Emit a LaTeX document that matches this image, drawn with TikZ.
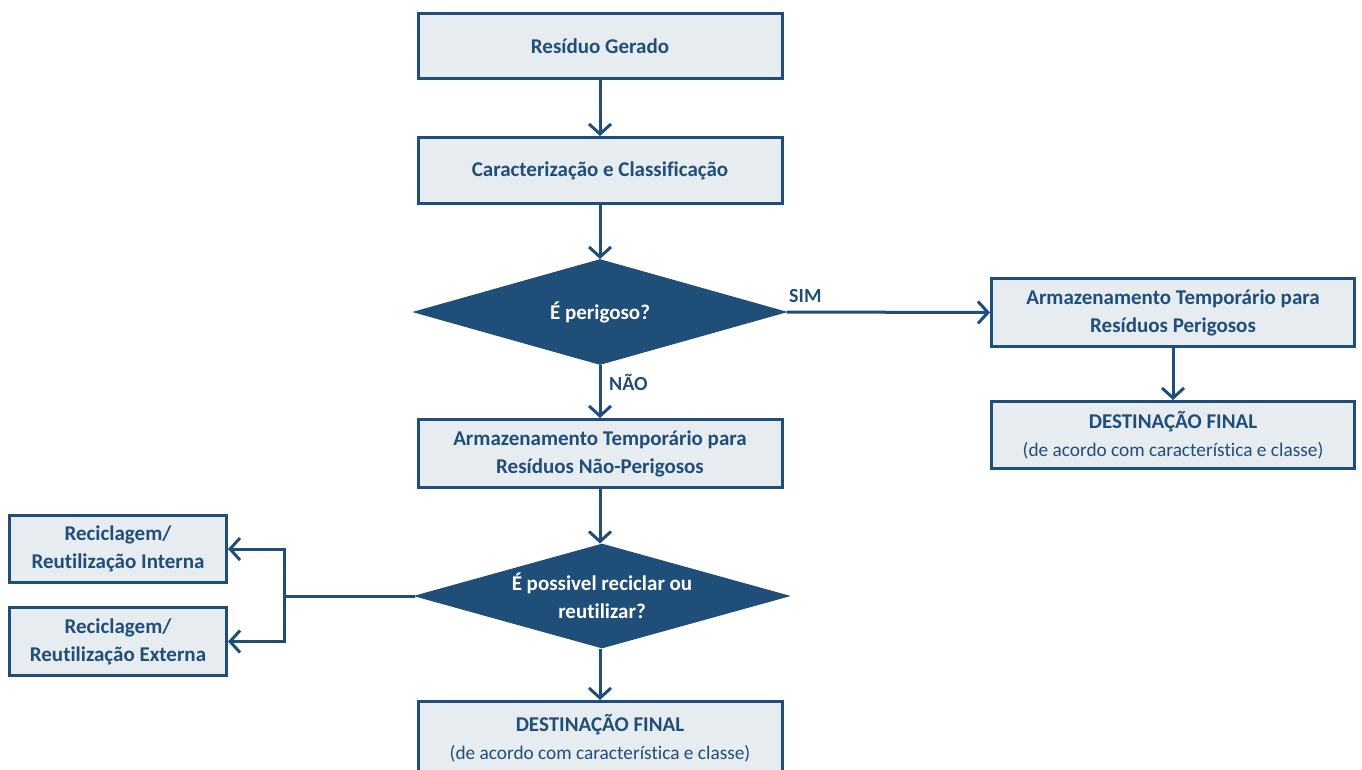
\documentclass[tikz,border=0pt]{standalone}
\usepackage{fontspec}
\setmainfont{Carlito}[Ligatures=NoCommon]
\usetikzlibrary{arrows.meta,shapes.geometric}
\definecolor{dkblue}{RGB}{31,78,121}
\definecolor{ltfill}{RGB}{231,236,241}
\newcommand{\subtxt}{\fontsize{19.3}{26}\selectfont\mdseries}
\tikzset{
  box/.style={draw=dkblue, fill=ltfill, line width=3pt, inner sep=0pt, align=center,
    font=\fontsize{21}{28}\selectfont\bfseries, text=dkblue},
  dec/.style={shape=diamond, fill=dkblue, draw=dkblue, line width=1pt, inner sep=0pt, align=center,
    font=\fontsize{21}{28}\selectfont\bfseries, text=white},
  conn/.style={draw=dkblue, line width=3pt, -{Straight Barb[length=10pt,width=22pt,line width=3pt]}},
  line/.style={draw=dkblue, line width=3pt},
  lbl/.style={font=\fontsize{20}{24}\selectfont\bfseries, text=dkblue, inner sep=0pt}
}
\begin{document}
\begin{tikzpicture}[x=1pt,y=-1pt]
\useasboundingbox (0,0) rectangle (1362,769);
\node[box, minimum width=364pt, minimum height=65pt] (gerado) at (600,46) {Resíduo Gerado};
\node[box, minimum width=364pt, minimum height=66pt] (carac) at (600,170.5) {Caracterização e Classificação};
\node[dec, minimum width=372pt, minimum height=105pt, aspect=3.5] (perig) at (600,312) {É perigoso?};
\node[box, minimum width=364pt, minimum height=68pt] (naoper) at (600,453.5) {Armazenamento Temporário para\\Resíduos Não-Perigosos};
\node[dec, minimum width=374pt, minimum height=104pt, aspect=3.5] (recic) at (602,596) {É possivel reciclar ou\\reutilizar?};
\node[box, minimum width=364pt, minimum height=74pt] (dest1) at (600,738.5) {DESTINAÇÃO FINAL\\{\subtxt (de acordo com característica e classe)}};
\node[box, minimum width=363pt, minimum height=68pt] (per) at (1173,312.5) {Armazenamento Temporário para\\Resíduos Perigosos};
\node[box, minimum width=363pt, minimum height=67pt] (dest2) at (1173,435) {DESTINAÇÃO FINAL\\{\subtxt (de acordo com característica e classe)}};
\node[box, minimum width=217pt, minimum height=67pt] (rint) at (118,549) {Reciclagem/\\Reutilização Interna};
\node[box, minimum width=217pt, minimum height=68pt] (rext) at (118,641.5) {Reciclagem/\\Reutilização Externa};
\coordinate (junc) at (284,596);

\draw[conn] (gerado) -- (carac);
\draw[conn] (carac) -- (perig);
\draw[conn] (perig) -- (naoper);
\draw[conn] (perig.east) -- (per.west);
\draw[conn] (per) -- (dest2);
\draw[conn] (naoper.south) -- (naoper.south |- recic.north);
\draw[conn] (naoper.south |- recic.south) -- (dest1);
\draw[line] (recic.west) -- (junc);
\draw[conn] (junc) |- (rint.east);
\draw[conn] (junc) |- (rext.east);

\node[lbl, anchor=west] (sim) at (789,296) {SIM};
\node[lbl, anchor=west] (nao) at (609,382) {NÃO};
\end{tikzpicture}
\end{document}
